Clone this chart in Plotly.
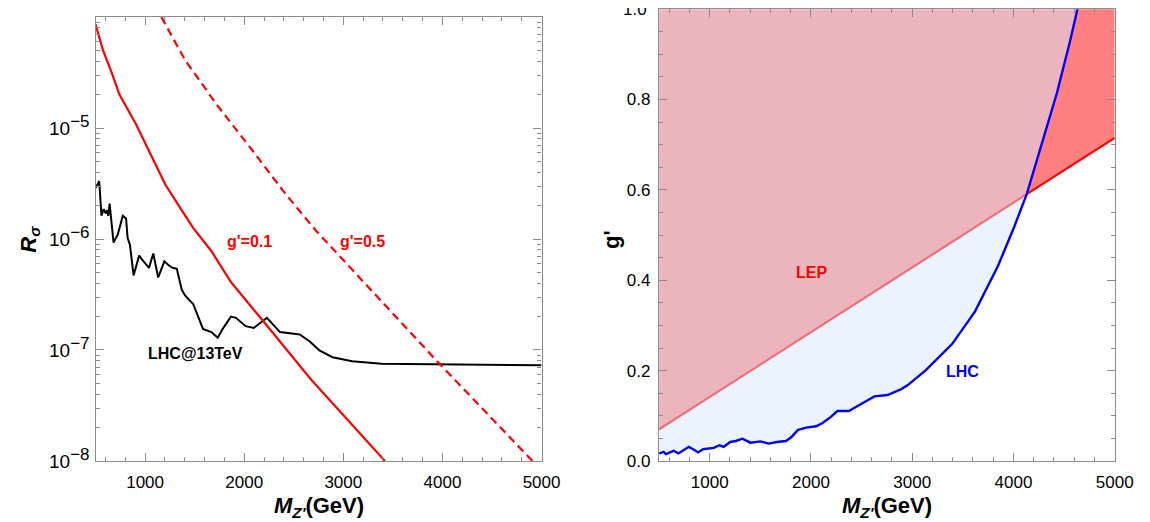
import numpy as np
import plotly.graph_objects as go

# ---------------- Left panel data (R_sigma vs M_Z') ----------------
mass_g01 = [500, 576, 659, 741, 907, 1023, 1204, 1370, 1485, 1668, 1866, 2164, 2676, 3420]
r_g01 = [8.6e-5, 5.0e-5, 3.23e-5, 2.0e-5, 1.09e-5, 6.6e-6, 3.1e-6, 1.81e-6, 1.26e-6,
         7.8e-7, 4.1e-7, 1.95e-7, 5.4e-8, 1.0e-8]

mass_g05 = [1165, 1403, 1733, 2065, 2395, 2720, 3965, 4908]
r_g05 = [1.0e-4, 4.1e-5, 1.58e-5, 6.6e-6, 2.7e-6, 1.2e-6, 7.6e-8, 1.0e-8]

mass_lhc13 = [500, 537, 560, 582, 602, 616, 629, 642, 682, 725, 775, 808, 824, 847, 884,
              940, 966, 1039, 1083, 1132, 1194, 1237, 1277, 1320, 1370, 1403, 1485, 1552,
              1584, 1668, 1733, 1783, 1866, 1916, 2015, 2097, 2229, 2361, 2560, 2659, 2759,
              2891, 3089, 3387, 3965, 5000]
r_lhc13 = [2.88e-6, 3.31e-6, 1.62e-6, 1.86e-6, 1.70e-6, 1.82e-6, 1.62e-6, 2.09e-6, 9.3e-7,
           1.10e-6, 1.62e-6, 1.53e-6, 1.02e-6, 8.9e-7, 4.7e-7, 7.1e-7, 6.6e-7, 5.5e-7,
           7.4e-7, 4.5e-7, 6.3e-7, 5.8e-7, 5.5e-7, 5.4e-7, 3.5e-7, 3.1e-7, 2.6e-7, 1.82e-7,
           1.55e-7, 1.45e-7, 1.29e-7, 1.55e-7, 2.0e-7, 1.95e-7, 1.64e-7, 1.58e-7, 1.95e-7,
           1.45e-7, 1.38e-7, 1.20e-7, 9.9e-8, 8.6e-8, 7.9e-8, 7.5e-8, 7.4e-8, 7.3e-8]

left_ytick_vals = [1e-8, 1e-7, 1e-6, 1e-5]
left_ytick_exp = ["\u22128", "\u22127", "\u22126", "\u22125"]
left_ytick_text = ["10<sup><span style='font-size:17px'>%s</span></sup>" % e for e in left_ytick_exp]

# ---------------- Right panel data (g' vs M_Z') ----------------
mass_lep = [500, 5000]
g_lep = [0.070, 0.715]

mass_lhc = [500, 545, 568, 643, 691, 794, 837, 886, 934, 1041, 1096, 1138, 1202, 1258, 1323,
            1403, 1500, 1581, 1663, 1753, 1808, 1872, 1954, 2051, 2115, 2197, 2261, 2374,
            2504, 2627, 2756, 2892, 2957, 3135, 3394, 3621, 3848, 4009, 4132, 4268, 4430,
            4560, 4635]
g_lhc = [0.0167, 0.0203, 0.0152, 0.0225, 0.0167, 0.0312, 0.026, 0.0189, 0.026, 0.029,
         0.0347, 0.0312, 0.042, 0.0442, 0.0492, 0.0405, 0.0433, 0.0384, 0.042, 0.0442,
         0.0529, 0.0687, 0.0737, 0.0767, 0.0839, 0.0975, 0.1105, 0.1105, 0.127, 0.143,
         0.146, 0.159, 0.168, 0.2009, 0.2587, 0.331, 0.432, 0.519, 0.591, 0.692, 0.815,
         0.930, 1.003]

right_ytick_vals = [0, 0.2, 0.4, 0.6, 0.8]
right_ytick_text = ["0.0", "0.2", "0.4", "0.6", "0.8"]
right_top_label = "1.0"

x_ticks = [1000, 2000, 3000, 4000, 5000]
x_minor = [v for v in range(600, 5000, 200) if v % 1000 != 0]

# ---------------- colours ----------------
RED = "#FF0000"
PINK = "#ECB4BD"
SALMON = "#FF8080"
LIGHTBLUE = "#EBF4FE"
LEP_SOFT = "#EE7078"
BLUE = "#0000FF"
FRAME = "#8C8C8C"
FONT = "Liberation Sans, Arial, sans-serif"

fig = go.Figure()

# left panel curves
fig.add_trace(go.Scatter(x=mass_lhc13, y=r_lhc13, mode="lines",
                         line=dict(color="black", width=2), xaxis="x", yaxis="y"))
fig.add_trace(go.Scatter(x=mass_g01, y=r_g01, mode="lines",
                         line=dict(color=RED, width=2.2), xaxis="x", yaxis="y"))
fig.add_trace(go.Scatter(x=mass_g05, y=r_g05, mode="lines",
                         line=dict(color=RED, width=2.2, dash="8px,5px"), xaxis="x", yaxis="y"))

# right panel regions built from the data
mL = np.array(mass_lhc, float)
gL = np.array(g_lhc, float)
lep = lambda m: np.interp(m, mass_lep, g_lep)
diff = gL - lep(mL)
k = int(np.where((diff[:-1] < 0) & (diff[1:] >= 0))[0][0])
t = -diff[k] / (diff[k + 1] - diff[k]) if diff[k + 1] != diff[k] else 0
xi = mL[k] + t * (mL[k + 1] - mL[k])
gi = float(lep(xi))
if t >= 0.999:
    k += 1
left_m = list(mL[:k + 1]) + [xi]
left_g = list(gL[:k + 1]) + [gi]
right_m = [xi] + list(mL[k + 1:])
right_g = [gi] + list(gL[k + 1:])
gtop = max(1.0, right_g[-1])
xmin, xmax = mass_lep[0], mass_lep[-1]

# pink LEP region (above LEP line, left of LHC curve)
pink_x = [xmin, xi] + right_m[1:] + [xmin, xmin]
pink_y = [float(lep(xmin)), gi] + right_g[1:] + [gtop, float(lep(xmin))]
fig.add_trace(go.Scatter(x=pink_x, y=pink_y, mode="lines", fill="toself", fillcolor=PINK,
                         line=dict(width=0), xaxis="x2", yaxis="y2"))
# salmon region (above LEP line, right of LHC curve)
sal_x = right_m + [xmax, xmax, xi]
sal_y = right_g + [gtop, float(lep(xmax)), gi]
fig.add_trace(go.Scatter(x=sal_x, y=sal_y, mode="lines", fill="toself", fillcolor=SALMON,
                         line=dict(width=0), xaxis="x2", yaxis="y2"))
# light blue region (between LHC curve and LEP line)
lb_x = left_m + [xmin, xmin]
lb_y = left_g + [float(lep(xmin)), left_g[0]]
fig.add_trace(go.Scatter(x=lb_x, y=lb_y, mode="lines", fill="toself", fillcolor=LIGHTBLUE,
                         line=dict(width=0), xaxis="x2", yaxis="y2"))
# LEP line
fig.add_trace(go.Scatter(x=[xmin, xi], y=[float(lep(xmin)), gi], mode="lines",
                         line=dict(color=LEP_SOFT, width=2.2), xaxis="x2", yaxis="y2"))
fig.add_trace(go.Scatter(x=[xi, xmax], y=[gi, float(lep(xmax))], mode="lines",
                         line=dict(color=RED, width=2.2), xaxis="x2", yaxis="y2"))
# LHC curve
fig.add_trace(go.Scatter(x=mass_lhc, y=g_lhc, mode="lines",
                         line=dict(color=BLUE, width=2.4), xaxis="x2", yaxis="y2"))

W, H = 1150, 522
def px(x):
    return x / W
def py(y):
    return 1 - y / H

tickfont = dict(family=FONT, size=17, color="black")
common_x = dict(range=[500, 5000], tickvals=x_ticks, ticks="inside", ticklen=8, tickwidth=1,
                tickcolor=FRAME, showline=True, linecolor=FRAME, linewidth=1.3,
                mirror="allticks", showgrid=False, zeroline=False, tickfont=tickfont,
                ticklabelstandoff=6,
                minor=dict(tickmode="array", tickvals=x_minor, ticks="inside", ticklen=4,
                           tickcolor=FRAME, showgrid=False))

left_minor = [m * 10.0 ** e for e in range(-8, -4) for m in range(2, 10)]

fig.update_layout(
    width=W, height=H,
    margin=dict(l=0, r=0, t=0, b=0),
    paper_bgcolor="white", plot_bgcolor="white",
    showlegend=False,
    xaxis=dict(domain=[89 / W, 542.5 / W], anchor="y", **common_x),
    yaxis=dict(domain=[py(462.7), py(9.3)], anchor="x", type="log", range=[-8, -4],
               tickvals=left_ytick_vals, ticktext=left_ytick_text, ticks="inside",
               ticklen=8, tickcolor=FRAME, showline=True, linecolor=FRAME, linewidth=1.3,
               mirror="allticks", showgrid=False, zeroline=False,
               tickfont=dict(family=FONT, size=19, color="black"), ticklabelstandoff=1,
               minor=dict(tickmode="array", tickvals=left_minor, ticks="inside", ticklen=4,
                          tickcolor=FRAME, showgrid=False)),
    xaxis2=dict(domain=[662 / W, 1125.3 / W], anchor="y2", **common_x),
    yaxis2=dict(domain=[py(462.7), py(1.2)], anchor="x2", range=[0, 1],
                tickvals=right_ytick_vals, ticktext=right_ytick_text,
                ticks="inside", ticklen=8, tickcolor=FRAME, showline=True, linecolor=FRAME,
                linewidth=1.3, mirror="allticks", showgrid=False, zeroline=False,
                tickfont=tickfont, ticklabelstandoff=4,
                minor=dict(tickmode="array",
                           tickvals=[0.05, 0.1, 0.15, 0.25, 0.3, 0.35, 0.45, 0.5, 0.55,
                                     0.65, 0.7, 0.75, 0.85, 0.9, 0.95, 1.0],
                           ticks="inside", ticklen=4, tickcolor=FRAME, showgrid=False)),
)

lab = dict(family=FONT, size=16)
C = dict(showarrow=False, xanchor="center", yanchor="middle")
TITLE = dict(family=FONT, size=22, color="black")
ann = [
    dict(text="<b>g'=0.1</b>", x=2057, y=-6.018, xref="x", yref="y",
         font=dict(lab, color=RED), **C),
    dict(text="<b>g'=0.5</b>", x=3198, y=-6.018, xref="x", yref="y",
         font=dict(lab, color=RED), **C),
    dict(text="<b>LHC@13TeV</b>", x=1512, y=-7.032, xref="x", yref="y",
         font=dict(lab, color="black"), **C),
    dict(text="<b>LEP</b>", x=2005, y=0.4175, xref="x2", yref="y2",
         font=dict(lab, color=RED), **C),
    dict(text="<b>LHC</b>", x=3501, y=0.1987, xref="x2", yref="y2",
         font=dict(lab, color=BLUE), **C),
    # top tick label of the right panel
    dict(text=right_top_label, x=px(652), y=1.0, xref="paper", yref="y2",
         showarrow=False, xanchor="right", yanchor="middle", font=tickfont),
    # axis titles
    dict(text="<b><i>M</i><sub><i>Z'</i></sub>(GeV)</b>", x=px(315.8), y=py(510),
         xref="paper", yref="paper", font=TITLE, **C),
    dict(text="<b><i>M</i><sub><i>Z'</i></sub>(GeV)</b>", x=px(893.5), y=py(510),
         xref="paper", yref="paper", font=TITLE, **C),
    dict(text="<b><i>R<sub>\u03c3</sub></i></b>", x=px(22), y=py(236), textangle=-90,
         xref="paper", yref="paper", font=TITLE, **C),
    dict(text="<b>g'</b>", x=px(613), y=py(236), textangle=-90,
         xref="paper", yref="paper", font=TITLE, **C),
]
fig.update_layout(annotations=ann)

fig.write_html("out.html")
